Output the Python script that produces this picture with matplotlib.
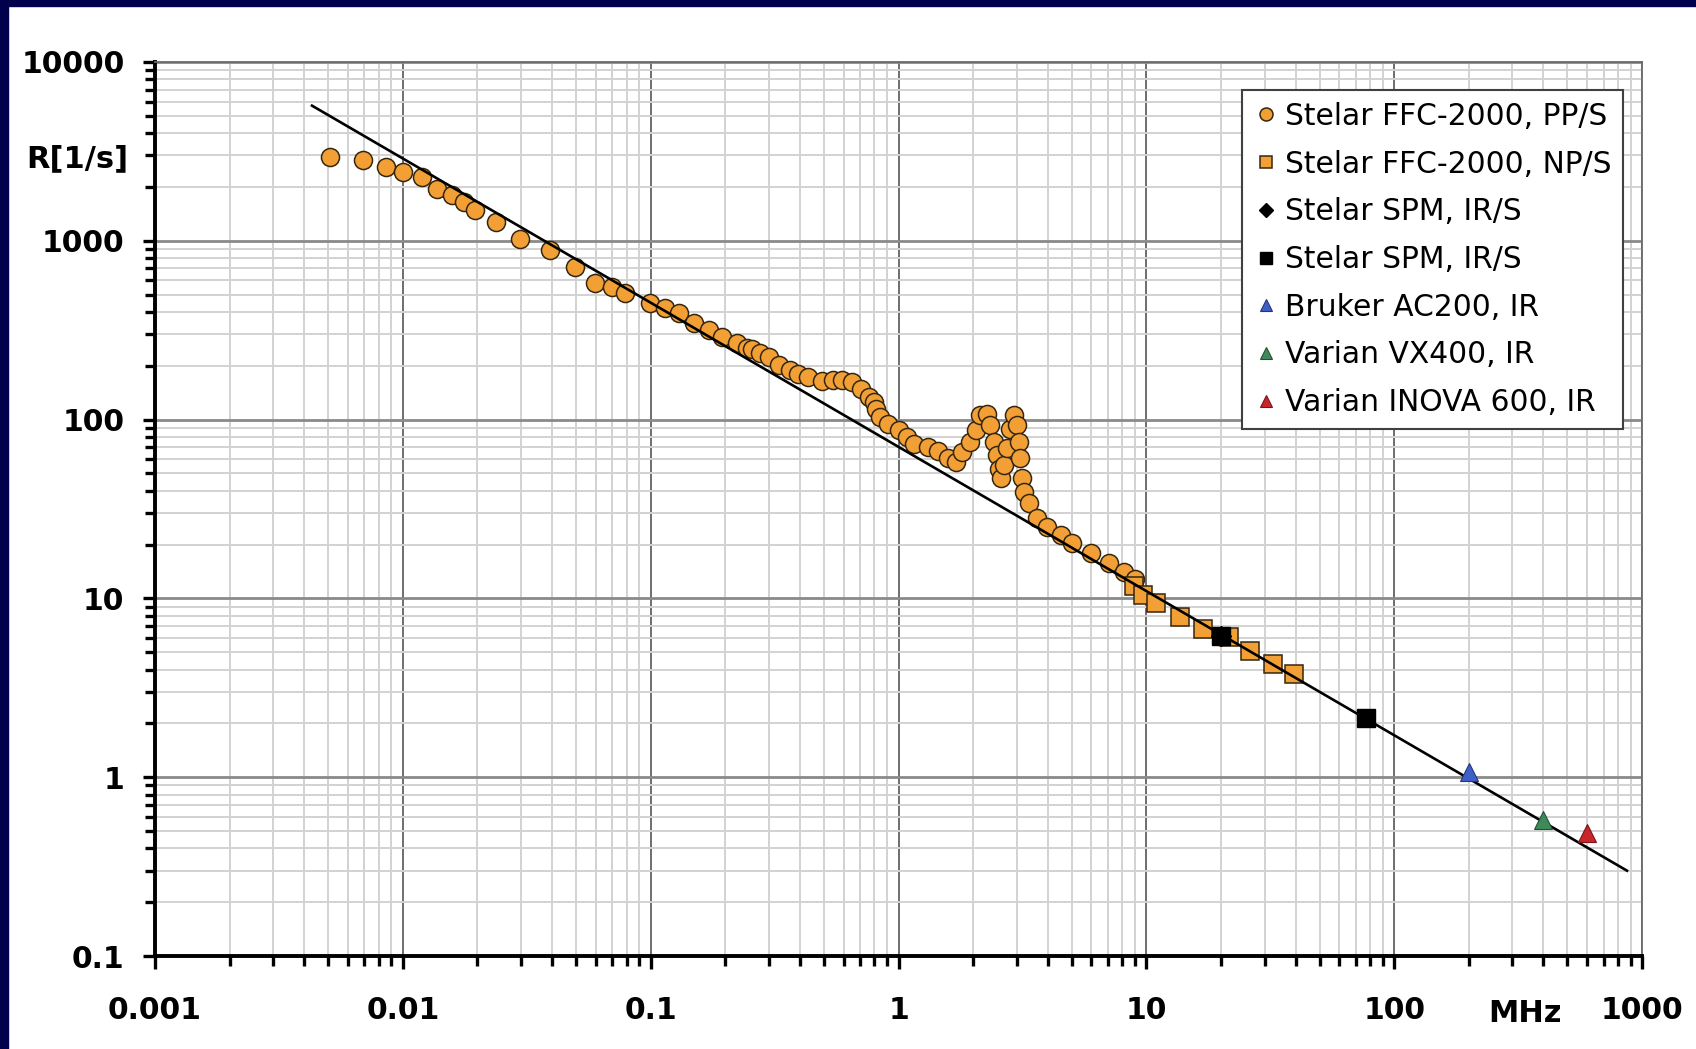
import matplotlib
matplotlib.use("Agg")
import matplotlib.pyplot as plt
from matplotlib.patches import Rectangle
from matplotlib.ticker import FixedLocator, NullFormatter, LogLocator

plt.rcParams['font.family'] = ['DejaVu Sans']

# Stelar FFC-2000, PP/S (circles)
pp_f = [0.00506, 0.0069, 0.00855, 0.0100, 0.0119, 0.0137, 0.0158, 0.0176, 0.0196, 0.0238,
        0.0298, 0.0394, 0.0497, 0.0598, 0.0698, 0.0791, 0.0998, 0.114, 0.130, 0.149, 0.172,
        0.194, 0.223, 0.245, 0.257, 0.277, 0.299, 0.331, 0.366, 0.394, 0.433, 0.493, 0.542,
        0.594, 0.652, 0.703, 0.757, 0.793, 0.808, 0.846, 0.911, 1.0, 1.087,
        1.15, 1.31, 1.44, 1.58, 1.70, 1.81, 1.95, 2.05, 2.14, 2.28,
        2.35, 2.42, 2.50, 2.54, 2.58, 2.66, 2.74, 2.83, 2.92, 3.01,
        3.06, 3.09, 3.16, 3.20, 3.36, 3.63, 3.98, 4.51, 5.03, 5.96,
        7.07, 8.12, 9.0]
pp_R = [2925, 2830, 2600, 2430, 2260, 1960, 1800, 1650, 1485, 1270,
        1030, 890, 717, 578, 554, 508, 447, 420, 393, 345, 317,
        291, 267, 251, 249, 236, 225, 203, 190, 181, 172, 165, 167,
        167, 163, 149, 134, 126, 115, 104, 95, 88, 80,
        73, 70, 67, 61, 58, 66, 75, 88, 106, 108,
        93, 75, 63, 53, 47, 56, 69, 89, 106, 93,
        75, 61, 47, 39.6, 34, 28, 25.2, 22.7, 20.4, 17.9,
        15.7, 14.1, 12.8]

# Stelar FFC-2000, NP/S (squares)
np_f = [8.9, 9.7, 10.9, 13.7, 16.9, 21.5, 26.3, 32.4, 39.6]
np_R = [11.8, 10.5, 9.4, 7.9, 6.7, 6.1, 5.1, 4.3, 3.8]

# Stelar SPM, IR/S
spm_d_f = [20.0]
spm_d_R = [6.2]
spm_s_f = [20.0, 77.0]
spm_s_R = [6.2, 2.15]

# single-field spectrometers
bruker_f, bruker_R = [200], [1.07]
vx400_f, vx400_R = [400], [0.575]
inova_f, inova_R = [600], [0.485]

# fitted power law, end points
fit_f = [0.0043, 870]
fit_R = [5700, 0.30]

x_ticks = [0.001, 0.01, 0.1, 1, 10, 100, 1000]
x_labels = ['0.001', '0.01', '0.1', '1', '10', '100', '1000']
y_ticks = [0.1, 1, 10, 100, 1000, 10000]
y_labels = ['0.1', '1', '10', '100', '1000', '10000']

W, H = 1696, 1049
fig = plt.figure(figsize=(W / 100, H / 100), dpi=100)
fig.patch.set_facecolor('white')
ax = fig.add_axes([155 / W, 1 - 956 / H, 1487 / W, 894 / H])
ax.set_xscale('log')
ax.set_yscale('log')
ax.set_xlim(1e-3, 1e3)
ax.set_ylim(0.1, 1e4)

orange = '#F2A035'
edge = '#35260f'
ax.plot(pp_f, pp_R, 'o', ms=13, mfc=orange, mec=edge, mew=1.1, zorder=3,
        label='Stelar FFC-2000, PP/S')
ax.plot(np_f, np_R, 's', ms=12.5, mfc=orange, mec=edge, mew=1.1, zorder=3,
        label='Stelar FFC-2000, NP/S')
ax.plot(fit_f, fit_R, '-', color='black', lw=1.9, zorder=4)
ax.plot(spm_d_f, spm_d_R, 'D', ms=10, mfc='black', mec='black', zorder=5,
        label='Stelar SPM, IR/S')
ax.plot(spm_s_f, spm_s_R, 's', ms=12.5, mfc='black', mec='black', zorder=5,
        label='Stelar SPM, IR/S')
ax.plot(bruker_f, bruker_R, '^', ms=12.5, mfc='#3F5FC8', mec='#24357a', mew=0.8, zorder=5,
        label='Bruker AC200, IR')
ax.plot(vx400_f, vx400_R, '^', ms=12.5, mfc='#3E8A5A', mec='#235033', mew=0.8, zorder=5,
        label='Varian VX400, IR')
ax.plot(inova_f, inova_R, '^', ms=12.5, mfc='#C8262A', mec='#7a1518', mew=0.8, zorder=5,
        label='Varian INOVA 600, IR')

# ticks and grid
ax.xaxis.set_major_locator(FixedLocator(x_ticks))
ax.set_xticklabels(x_labels)
ax.yaxis.set_major_locator(FixedLocator(y_ticks))
ax.set_yticklabels(y_labels)
ax.xaxis.set_minor_locator(LogLocator(base=10, subs=range(2, 10), numticks=20))
ax.yaxis.set_minor_locator(LogLocator(base=10, subs=range(2, 10), numticks=20))
ax.xaxis.set_minor_formatter(NullFormatter())
ax.yaxis.set_minor_formatter(NullFormatter())

ax.set_axisbelow(True)
ax.xaxis.grid(True, which='minor', color='#d2d2d2', lw=1.4)
ax.yaxis.grid(True, which='minor', color='#d2d2d2', lw=1.4)
ax.xaxis.grid(True, which='major', color='#555555', lw=1.2)
ax.yaxis.grid(True, which='major', color='#8a8a8a', lw=2.0)

ax.tick_params(which='both', direction='out', width=2.4, color='black')
ax.tick_params(which='major', length=9)
ax.tick_params(which='minor', length=7)
ax.tick_params(axis='x', which='major', pad=20, labelsize=21.5)
ax.tick_params(axis='y', which='major', pad=13, labelsize=21.5)
for lab in ax.get_xticklabels() + ax.get_yticklabels():
    lab.set_fontweight('bold')

for s in ['left', 'bottom']:
    ax.spines[s].set_color('black')
    ax.spines[s].set_linewidth(2.8)
for s in ['top', 'right']:
    ax.spines[s].set_color('#6a6a6a')
    ax.spines[s].set_linewidth(1.3)

leg = ax.legend(loc='upper left', bbox_to_anchor=(0.731, 0.9687), borderaxespad=0,
                fontsize=21.4, markerscale=0.72, handlelength=0.8, handletextpad=0.25,
                borderpad=0.4, labelspacing=0.63, fancybox=False, framealpha=1,
                edgecolor='#404040')
leg.get_frame().set_linewidth(1.5)

fig.text(128 / W, 1 - 159 / H, 'R[1/s]', ha='right', va='center',
         fontsize=22, fontweight='bold')
fig.text(1525 / W, 1 - 1013 / H, 'MHz', ha='center', va='center',
         fontsize=22, fontweight='bold')

# dark slide border (top and left)
navy = '#00004d'
fig.patches.append(Rectangle((0, 1 - 6 / H), 1, 6 / H, transform=fig.transFigure,
                             color=navy, zorder=10))
fig.patches.append(Rectangle((0, 0), 8 / W, 1, transform=fig.transFigure,
                             color=navy, zorder=10))

fig.savefig('out.png', dpi=100)
